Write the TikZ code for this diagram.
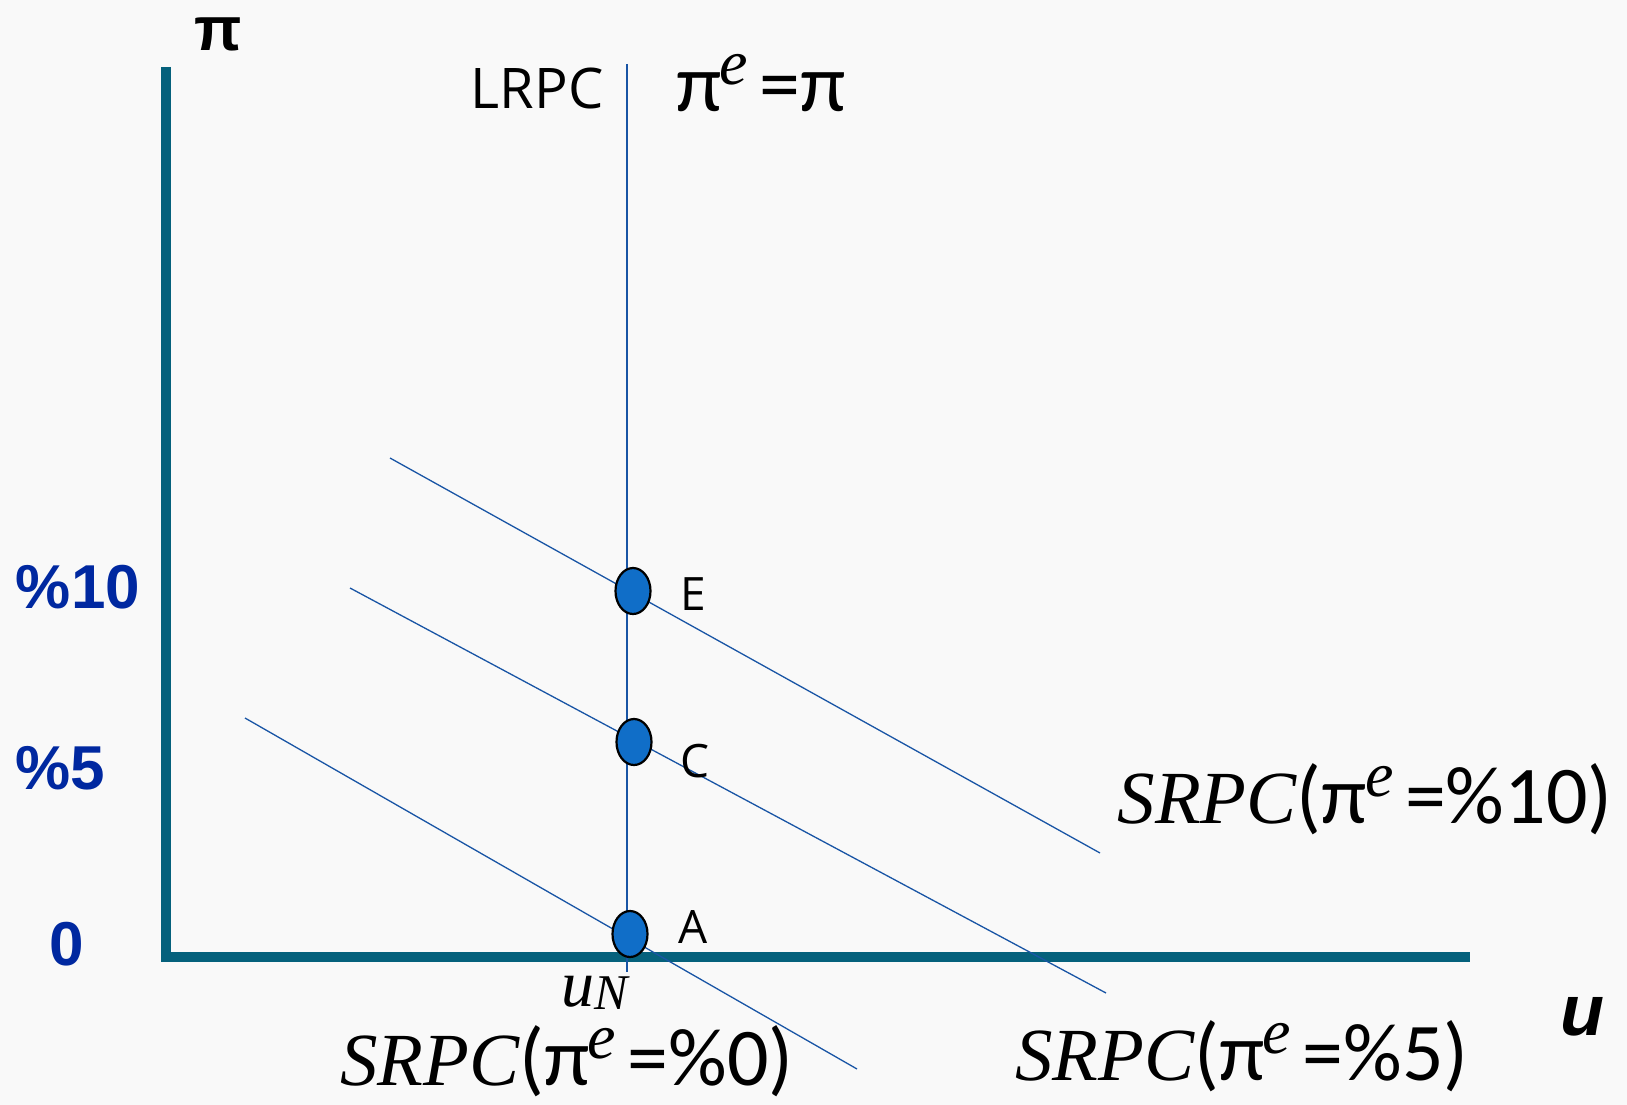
\documentclass[tikz,border=0pt]{standalone}
\usepackage{fontspec}
\usetikzlibrary{shapes.geometric}
\newfontfamily\osans{Open Sans}
\newfontfamily\calib{Carlito}
\newfontfamily\arialf{Liberation Sans}
\newfontfamily\serit{Liberation Serif}
\definecolor{axisteal}{RGB}{5,97,124}
\definecolor{lineblue}{RGB}{25,85,165}
\definecolor{dotblue}{RGB}{16,110,200}
\definecolor{numblue}{RGB}{0,40,160}
\definecolor{bgc}{RGB}{249,249,249}
\tikzset{
  axisline/.style={draw=axisteal,line width=10pt},
  lrpcline/.style={draw=lineblue,line width=2pt},
  srpcline/.style={draw=lineblue,line width=1.3pt},
  pdot/.style={ellipse,draw=black,line width=2.2pt,fill=dotblue,minimum width=35pt,minimum height=46pt,inner sep=0pt},
  ptlabel/.style={font=\osans\fontsize{46}{48}\selectfont,inner sep=0pt},
  numlabel/.style={font=\arialf\bfseries\fontsize{62}{64}\selectfont,text=numblue,inner sep=0pt},
  srpclabel/.style={font=\calib\fontsize{82}{84}\selectfont,inner sep=0pt},
}
\newcommand{\supe}{\kern-0.02em\smash{\raisebox{0.33em}{\serit\itshape\fontsize{64}{66}\selectfont e}}}
\newcommand{\srpctext}[1]{{\serit\itshape\fontsize{75}{77}\selectfont SRPC}(π\supe\kern0.14em=\%#1)}
\begin{document}
\begin{tikzpicture}[x=1pt,y=-1pt]
\useasboundingbox (0,0) rectangle (1627,1105);
\fill[bgc] (0,0) rectangle (1627,1105);
% axes
\coordinate (ytop) at (166,67);
\coordinate (ybot) at (166,962);
\coordinate (xleft) at (161,957);
\coordinate (xright) at (1470,957);
\draw[axisline] (ytop) -- (ybot);
\draw[axisline] (xleft) -- (xright);
% LRPC
\coordinate (ltop) at (627,64);
\coordinate (lbot) at (627,972);
\draw[lrpcline] (ltop) -- (lbot);
% SRPC lines
\coordinate (s10a) at (390,458);
\coordinate (s10b) at (1100,853);
\coordinate (s5a) at (350,588);
\coordinate (s5b) at (1106,993);
\coordinate (s0a) at (245,718);
\coordinate (s0b) at (857,1069);
\draw[srpcline] (s10a) -- (s10b);
\draw[srpcline] (s5a) -- (s5b);
\draw[srpcline] (s0a) -- (s0b);
% points
\node[pdot] (E) at (633,591) {};
\node[pdot] (C) at (634,742) {};
\node[pdot] (A) at (630,934) {};
\node[ptlabel] (Elab) at (693,594) {E};
\node[ptlabel] (Clab) at (695,761) {C};
\node[ptlabel] (Alab) at (693,927) {A};
% axis labels
\node[inner sep=0pt,font=\arialf\bfseries\fontsize{62}{64}\selectfont] (pi) at (218,34) {π};
\node[inner sep=0pt,font=\arialf\bfseries\itshape\fontsize{72}{74}\selectfont] (u) at (1582,1017) {u};
\node[ptlabel,font=\osans\fontsize{56}{58}\selectfont] (lrpc) at (537,88) {LRPC};
\node[srpclabel] (pie) at (761,92) {π\supe\kern0.14em=π};
\node[numlabel] (n10) at (78,587) {\%10};
\node[numlabel] (n5) at (60,768) {\%5};
\node[numlabel] (n0) at (67,944) {0};
\node[inner sep=0pt] (uN) at (595,993) {{\serit\itshape\fontsize{66}{68}\selectfont u}\raisebox{-0.28em}{\serit\itshape\fontsize{50}{52}\selectfont N}};
\node[srpclabel] (lab0) at (567,1061) {\srpctext{0}};
\node[srpclabel] (lab10) at (1365,799) {\srpctext{10}};
\node[srpclabel] (lab5) at (1242,1056) {\srpctext{5}};
\end{tikzpicture}
\end{document}
